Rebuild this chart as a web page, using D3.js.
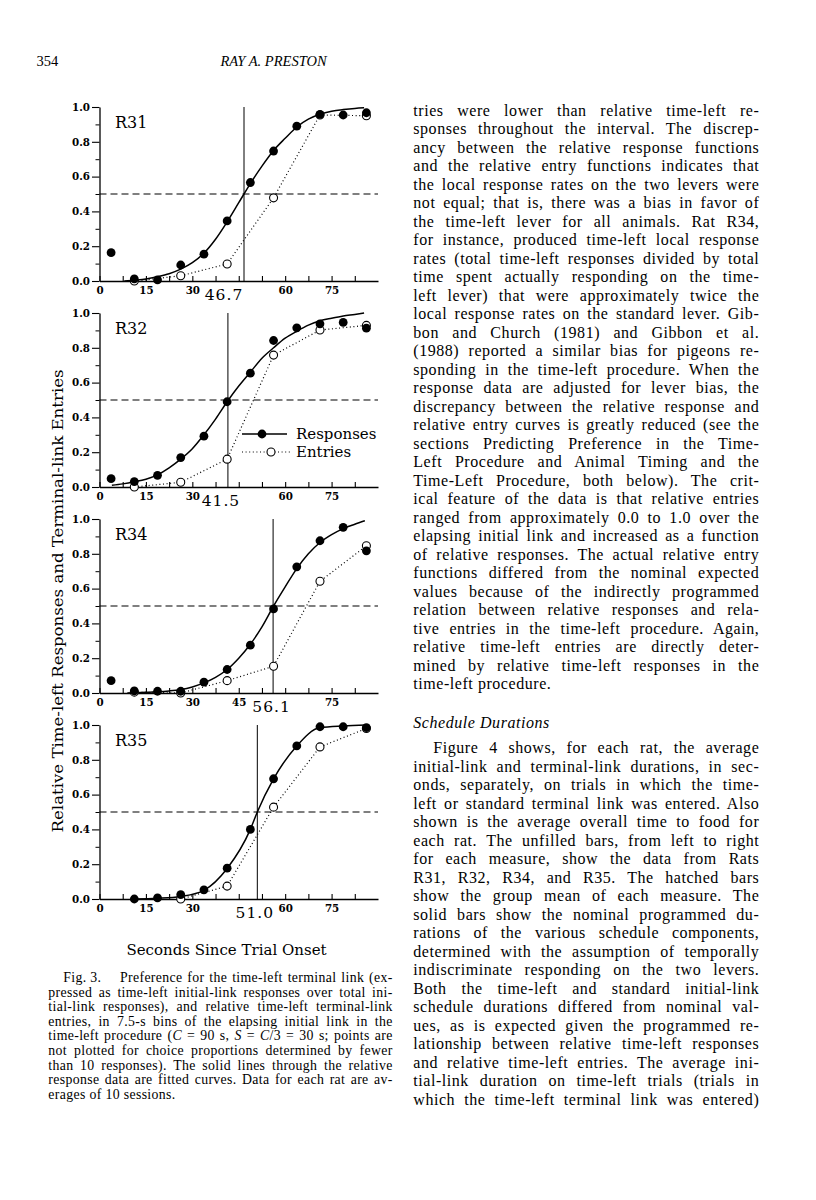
<!DOCTYPE html>
<html>
<head>
<meta charset="utf-8">
<script src="https://cdn.jsdelivr.net/npm/d3@7"></script>
<style>
  body { margin: 0; background: #fff; }
  svg { display: block; }
</style>
</head>
<body>
<svg id="page" width="816" height="1200"></svg>
<script>
// ---- data ----
const rats = ["R31", "R32", "R34", "R35"];
const halfPoints = [46.7, 41.5, 56.1, 51.0];

const respBins = [3.75, 11.25, 18.75, 26.25, 33.75, 41.25, 48.75, 56.25, 63.75, 71.25, 78.75, 86.25];
const entryBins = [11.25, 26.25, 41.25, 56.25, 71.25, 86.25];

const respR31 = [0.163, 0.012, 0.006, 0.092, 0.154, 0.345, 0.566, 0.747, 0.89, 0.958, 0.954, 0.967];
const respR32 = [0.048, 0.031, 0.067, 0.169, 0.292, 0.49, 0.654, 0.842, 0.915, 0.938, 0.946, 0.913];
const respR34 = [0.071, 0.012, 0.01, 0.01, 0.062, 0.135, 0.275, 0.483, 0.725, 0.875, 0.952, 0.817];
const respR35 = [null, 0.0, 0.006, 0.025, 0.053, 0.177, 0.4, 0.691, 0.88, 0.99, 0.99, 0.985];

const entR31 = [0.0, 0.03, 0.098, 0.478, 0.954, 0.95];
const entR32 = [0.0, 0.027, 0.16, 0.758, 0.902, 0.929];
const entR34 = [0.005, 0.0, 0.071, 0.154, 0.642, 0.846];
const entR35 = [null, 0.0, 0.074, 0.528, 0.874, 0.98];

// fitted curves
const fitR31x = [8, 11.25, 15, 18.75, 22.5, 26.25, 30, 33.75, 37.5, 41.25, 45, 48.75, 52.5, 56.25, 60, 63.75, 67.5, 71.25, 75, 78.75, 82.5, 85.5];
const fitR31y = [0.0, 0.005, 0.012, 0.025, 0.042, 0.068, 0.105, 0.16, 0.24, 0.34, 0.45, 0.56, 0.66, 0.75, 0.82, 0.885, 0.93, 0.958, 0.975, 0.985, 0.992, 0.995];
const fitR32x = [4, 7.5, 11.25, 15, 18.75, 22.5, 26.25, 30, 33.75, 37.5, 41.25, 45, 48.75, 52.5, 56.25, 60, 63.75, 67.5, 71.25, 75, 78.75, 82.5, 85.5];
const fitR32y = [0.01, 0.018, 0.03, 0.045, 0.07, 0.11, 0.16, 0.22, 0.3, 0.39, 0.49, 0.58, 0.66, 0.74, 0.8, 0.855, 0.895, 0.93, 0.955, 0.97, 0.983, 0.992, 1.0];
const fitR34x = [9, 11.25, 15, 18.75, 22.5, 26.25, 30, 33.75, 37.5, 41.25, 45, 48.75, 52.5, 56.25, 60, 63.75, 67.5, 71.25, 75, 78.75, 82.5, 85.75];
const fitR34y = [0.0, 0.002, 0.004, 0.007, 0.012, 0.02, 0.035, 0.058, 0.09, 0.135, 0.2, 0.28, 0.38, 0.5, 0.61, 0.715, 0.8, 0.865, 0.91, 0.945, 0.97, 0.99];
const fitR35x = [11.25, 18.75, 26.25, 33.75, 41.25, 48.75, 51, 56.25, 63.75, 71.25, 78.75, 86.25];
const fitR35y = [0.0, 0.004, 0.015, 0.05, 0.175, 0.4, 0.5, 0.69, 0.88, 0.985, 0.995, 1.0];

const xTicks = [0, 7.5, 15, 22.5, 30, 37.5, 45, 52.5, 60, 67.5, 75, 82.5];
const xLabelTicks = [0, 15, 30, 45, 60, 75];
const yTicks = [0, 0.2, 0.4, 0.6, 0.8, 1.0];
const yMinorTicks = [0.1, 0.3, 0.5, 0.7, 0.9];

const legendLabels = ["Responses", "Entries"];
const xTitle = "Seconds Since Trial Onset";
const yTitle = "Relative Time-left Responses and Terminal-link Entries";

const pageNumber = "354";
const runningHead = "RAY A. PRESTON";

const captionLead = "Fig. 3.";
const captionLines = [
  "Preference for the time-left terminal link (ex-",
  "pressed as time-left initial-link responses over total ini-",
  "tial-link responses), and relative time-left terminal-link",
  "entries, in 7.5-s bins of the elapsing initial link in the",
  "time-left procedure (_C_ = 90 s, _S_ = _C_/3 = 30 s; points are",
  "not plotted for choice proportions determined by fewer",
  "than 10 responses). The solid lines through the relative",
  "response data are fitted curves. Data for each rat are av-",
  "erages of 10 sessions."
];

const bodyLines = [
  "tries were lower than relative time-left re-",
  "sponses throughout the interval. The discrep-",
  "ancy between the relative response functions",
  "and the relative entry functions indicates that",
  "the local response rates on the two levers were",
  "not equal; that is, there was a bias in favor of",
  "the time-left lever for all animals. Rat R34,",
  "for instance, produced time-left local response",
  "rates (total time-left responses divided by total",
  "time spent actually responding on the time-",
  "left lever) that were approximately twice the",
  "local response rates on the standard lever. Gib-",
  "bon and Church (1981) and Gibbon et al.",
  "(1988) reported a similar bias for pigeons re-",
  "sponding in the time-left procedure. When the",
  "response data are adjusted for lever bias, the",
  "discrepancy between the relative response and",
  "relative entry curves is greatly reduced (see the",
  "sections Predicting Preference in the Time-",
  "Left Procedure and Animal Timing and the",
  "Time-Left Procedure, both below). The crit-",
  "ical feature of the data is that relative entries",
  "ranged from approximately 0.0 to 1.0 over the",
  "elapsing initial link and increased as a function",
  "of relative responses. The actual relative entry",
  "functions differed from the nominal expected",
  "values because of the indirectly programmed",
  "relation between relative responses and rela-",
  "tive entries in the time-left procedure. Again,",
  "relative time-left entries are directly deter-",
  "mined by relative time-left responses in the",
  "time-left procedure."
];
const sectionHead = "Schedule Durations";
const sectionLines = [
  "Figure 4 shows, for each rat, the average",
  "initial-link and terminal-link durations, in sec-",
  "onds, separately, on trials in which the time-",
  "left or standard terminal link was entered. Also",
  "shown is the average overall time to food for",
  "each rat. The unfilled bars, from left to right",
  "for each measure, show the data from Rats",
  "R31, R32, R34, and R35. The hatched bars",
  "show the group mean of each measure. The",
  "solid bars show the nominal programmed du-",
  "rations of the various schedule components,",
  "determined with the assumption of temporally",
  "indiscriminate responding on the two levers.",
  "Both the time-left and standard initial-link",
  "schedule durations differed from nominal val-",
  "ues, as is expected given the programmed re-",
  "lationship between relative time-left responses",
  "and relative time-left entries. The average ini-",
  "tial-link duration on time-left trials (trials in",
  "which the time-left terminal link was entered)"
];

const responses = [respR31, respR32, respR34, respR35];
const entries = [entR31, entR32, entR34, entR35];
const fitsX = [fitR31x, fitR32x, fitR34x, fitR35x];
const fitsY = [fitR31y, fitR32y, fitR34y, fitR35y];

// ---- layout ----
const svg = d3.select("#page");
const figFont = "'DejaVu Serif', serif";
const textFont = "'Liberation Serif', 'Times New Roman', serif";

const x = d3.scaleLinear().domain([0, 90]).range([99.5, 378]);
const panelH = 174;
const panelTop = i => 107 + i * 206;
// nudges of the big half-point labels, relative to the vertical line
const halfLabelDx = [-20, -7, -1.5, -2.5];

// page header
svg.append("text").attr("x", 36.5).attr("y", 66)
  .style("font-family", textFont).style("font-size", "14.5px")
  .text(pageNumber);
svg.append("text").attr("x", 273.5).attr("y", 66)
  .attr("text-anchor", "middle")
  .style("font-family", textFont).style("font-size", "14.5px").style("font-style", "italic")
  .text(runningHead);

rats.forEach((rat, i) => {
  const top = panelTop(i);
  const y = d3.scaleLinear().domain([0, 1]).range([top + panelH, top]);
  const g = svg.append("g").attr("class", "panel");

  // reference lines
  g.append("line")
    .attr("x1", x(0)).attr("x2", x(90))
    .attr("y1", y(0.5)).attr("y2", y(0.5))
    .attr("stroke", "#000").attr("stroke-width", 1.2)
    .attr("stroke-dasharray", "7,4");
  g.append("line")
    .attr("x1", x(halfPoints[i])).attr("x2", x(halfPoints[i]))
    .attr("y1", y(0)).attr("y2", y(1))
    .attr("stroke", "#000").attr("stroke-width", 1);

  // y axis
  const yAxis = g.append("g")
    .attr("transform", `translate(${x(0)},0)`)
    .call(d3.axisLeft(y).tickValues(yTicks).tickFormat(d3.format(".1f"))
      .tickSizeInner(7.5).tickSizeOuter(0).tickPadding(2));
  g.append("g")
    .attr("transform", `translate(${x(0)},0)`)
    .call(d3.axisLeft(y).tickValues(yMinorTicks).tickFormat("")
      .tickSizeInner(4).tickSizeOuter(0))
    .select(".domain").remove();

  // x axis: label every 15 s, except the one the half-point label replaces
  const nearest = xLabelTicks.reduce((a, b) =>
    Math.abs(b - halfPoints[i]) < Math.abs(a - halfPoints[i]) ? b : a);
  const xAxis = g.append("g")
    .attr("transform", `translate(0,${y(0)})`)
    .call(d3.axisBottom(x).tickValues(xTicks)
      .tickFormat(d => (xLabelTicks.includes(d) && d !== nearest) ? d3.format("d")(d) : "")
      .tickSizeInner(-5).tickSizeOuter(0).tickPadding(6));

  [yAxis, xAxis].forEach(ax => {
    ax.select(".domain").attr("stroke-width", 1.3);
    ax.selectAll(".tick line").attr("stroke-width", 1.1);
    ax.selectAll("text")
      .style("font-family", figFont).style("font-size", "10.3px").style("font-weight", "bold");
  });

  g.append("text")
    .attr("x", x(halfPoints[i]) + halfLabelDx[i]).attr("y", y(0) + 18.5)
    .attr("text-anchor", "middle")
    .style("font-family", figFont).style("font-size", "15.5px").style("letter-spacing", "1px")
    .text(halfPoints[i].toFixed(1));

  // rat label
  g.append("text")
    .attr("x", 115).attr("y", top + 21)
    .style("font-family", figFont).style("font-size", "16px")
    .text(rat);

  // fitted curve
  const fit = fitsX[i].map((v, k) => [v, fitsY[i][k]]);
  g.append("path")
    .datum(fit)
    .attr("fill", "none").attr("stroke", "#000").attr("stroke-width", 1.5)
    .attr("d", d3.line().x(d => x(d[0])).y(d => y(d[1])).curve(d3.curveMonotoneX));

  // entries: dotted line + open circles
  const ent = entryBins.map((v, k) => [v, entries[i][k]]).filter(d => d[1] != null);
  g.append("path")
    .datum(ent)
    .attr("fill", "none").attr("stroke", "#000").attr("stroke-width", 1.2)
    .attr("stroke-dasharray", "1,2.6")
    .attr("d", d3.line().x(d => x(d[0])).y(d => y(d[1])));
  g.selectAll(".entry")
    .data(ent)
    .enter().append("circle")
    .attr("class", "entry")
    .attr("cx", d => x(d[0])).attr("cy", d => y(d[1]))
    .attr("r", 4).attr("fill", "#fff").attr("stroke", "#000").attr("stroke-width", 1.1);

  // responses: filled dots
  const resp = respBins.map((v, k) => [v, responses[i][k]]).filter(d => d[1] != null);
  g.selectAll(".resp")
    .data(resp)
    .enter().append("circle")
    .attr("class", "resp")
    .attr("cx", d => x(d[0])).attr("cy", d => y(d[1]))
    .attr("r", 4.4).attr("fill", "#000");

  // legend sits in the R32 panel
  if (rat === "R32") {
    const lg = g.append("g").attr("transform", `translate(242,${top + 121})`);
    lg.append("line").attr("x1", 0).attr("x2", 45).attr("y1", 0).attr("y2", 0)
      .attr("stroke", "#000").attr("stroke-width", 1.5);
    lg.append("circle").attr("cx", 20).attr("cy", 0).attr("r", 4.4).attr("fill", "#000");
    lg.append("line").attr("x1", 0).attr("x2", 49).attr("y1", 18).attr("y2", 18)
      .attr("stroke", "#000").attr("stroke-width", 1.2).attr("stroke-dasharray", "1,2.6");
    lg.append("circle").attr("cx", 29).attr("cy", 18).attr("r", 4)
      .attr("fill", "#fff").attr("stroke", "#000").attr("stroke-width", 1.1);
    lg.selectAll("text")
      .data(legendLabels)
      .enter().append("text")
      .attr("x", 54).attr("y", (d, k) => k * 18 + 5)
      .style("font-family", figFont).style("font-size", "15px")
      .text(d => d);
  }
});

// axis titles
svg.append("text")
  .attr("transform", "translate(63,601) rotate(-90)")
  .attr("text-anchor", "middle")
  .attr("textLength", 463).attr("lengthAdjust", "spacingAndGlyphs")
  .style("font-family", figFont).style("font-size", "15px")
  .text(yTitle);
svg.append("text")
  .attr("x", 226.5).attr("y", 955)
  .attr("text-anchor", "middle")
  .style("font-family", figFont).style("font-size", "15px")
  .text(xTitle);

// ---- justified text blocks ----
function addLine(parent, str, x0, x1, yb, size, track, justify, italic) {
  const t = parent.append("text")
    .attr("x", x0).attr("y", yb)
    .style("font-family", textFont).style("font-size", size + "px")
    .style("letter-spacing", track + "px")
    .style("font-style", italic ? "italic" : "normal");
  str.split("_").forEach((part, k) => {
    if (part) t.append("tspan").style("font-style", k % 2 ? "italic" : null).text(part);
  });
  if (justify) {
    const len = t.node().getComputedTextLength();
    const gaps = (str.match(/ /g) || []).length;
    if (gaps) t.style("word-spacing", ((x1 - x0 - len) / gaps) + "px");
  }
  return t;
}

const cap = svg.append("g").attr("class", "caption");
const capTop = 982, capLead = 14.6;
cap.append("text").attr("x", 63.3).attr("y", capTop)
  .style("font-family", textFont).style("font-size", "13.8px").style("letter-spacing", "0.35px")
  .text(captionLead);
captionLines.forEach((s, k) => {
  addLine(cap, s, k === 0 ? 120 : 48.3, 392.7, capTop + k * capLead, 13.8, 0.35,
    k < captionLines.length - 1, false);
});

const body = svg.append("g").attr("class", "body");
const colL = 413.3, colR = 759.3, lead = 18.5;
bodyLines.forEach((s, k) => {
  addLine(body, s, colL, colR, 115.5 + k * lead, 16, 0.55, k < bodyLines.length - 1, false);
});
addLine(body, sectionHead, colL, colR, 727.5, 16, 0.55, false, true);
sectionLines.forEach((s, k) => {
  addLine(body, s, k === 0 ? colL + 20 : colL, colR, 753 + k * lead, 16, 0.55, true, false);
});
</script>
</body>
</html>
